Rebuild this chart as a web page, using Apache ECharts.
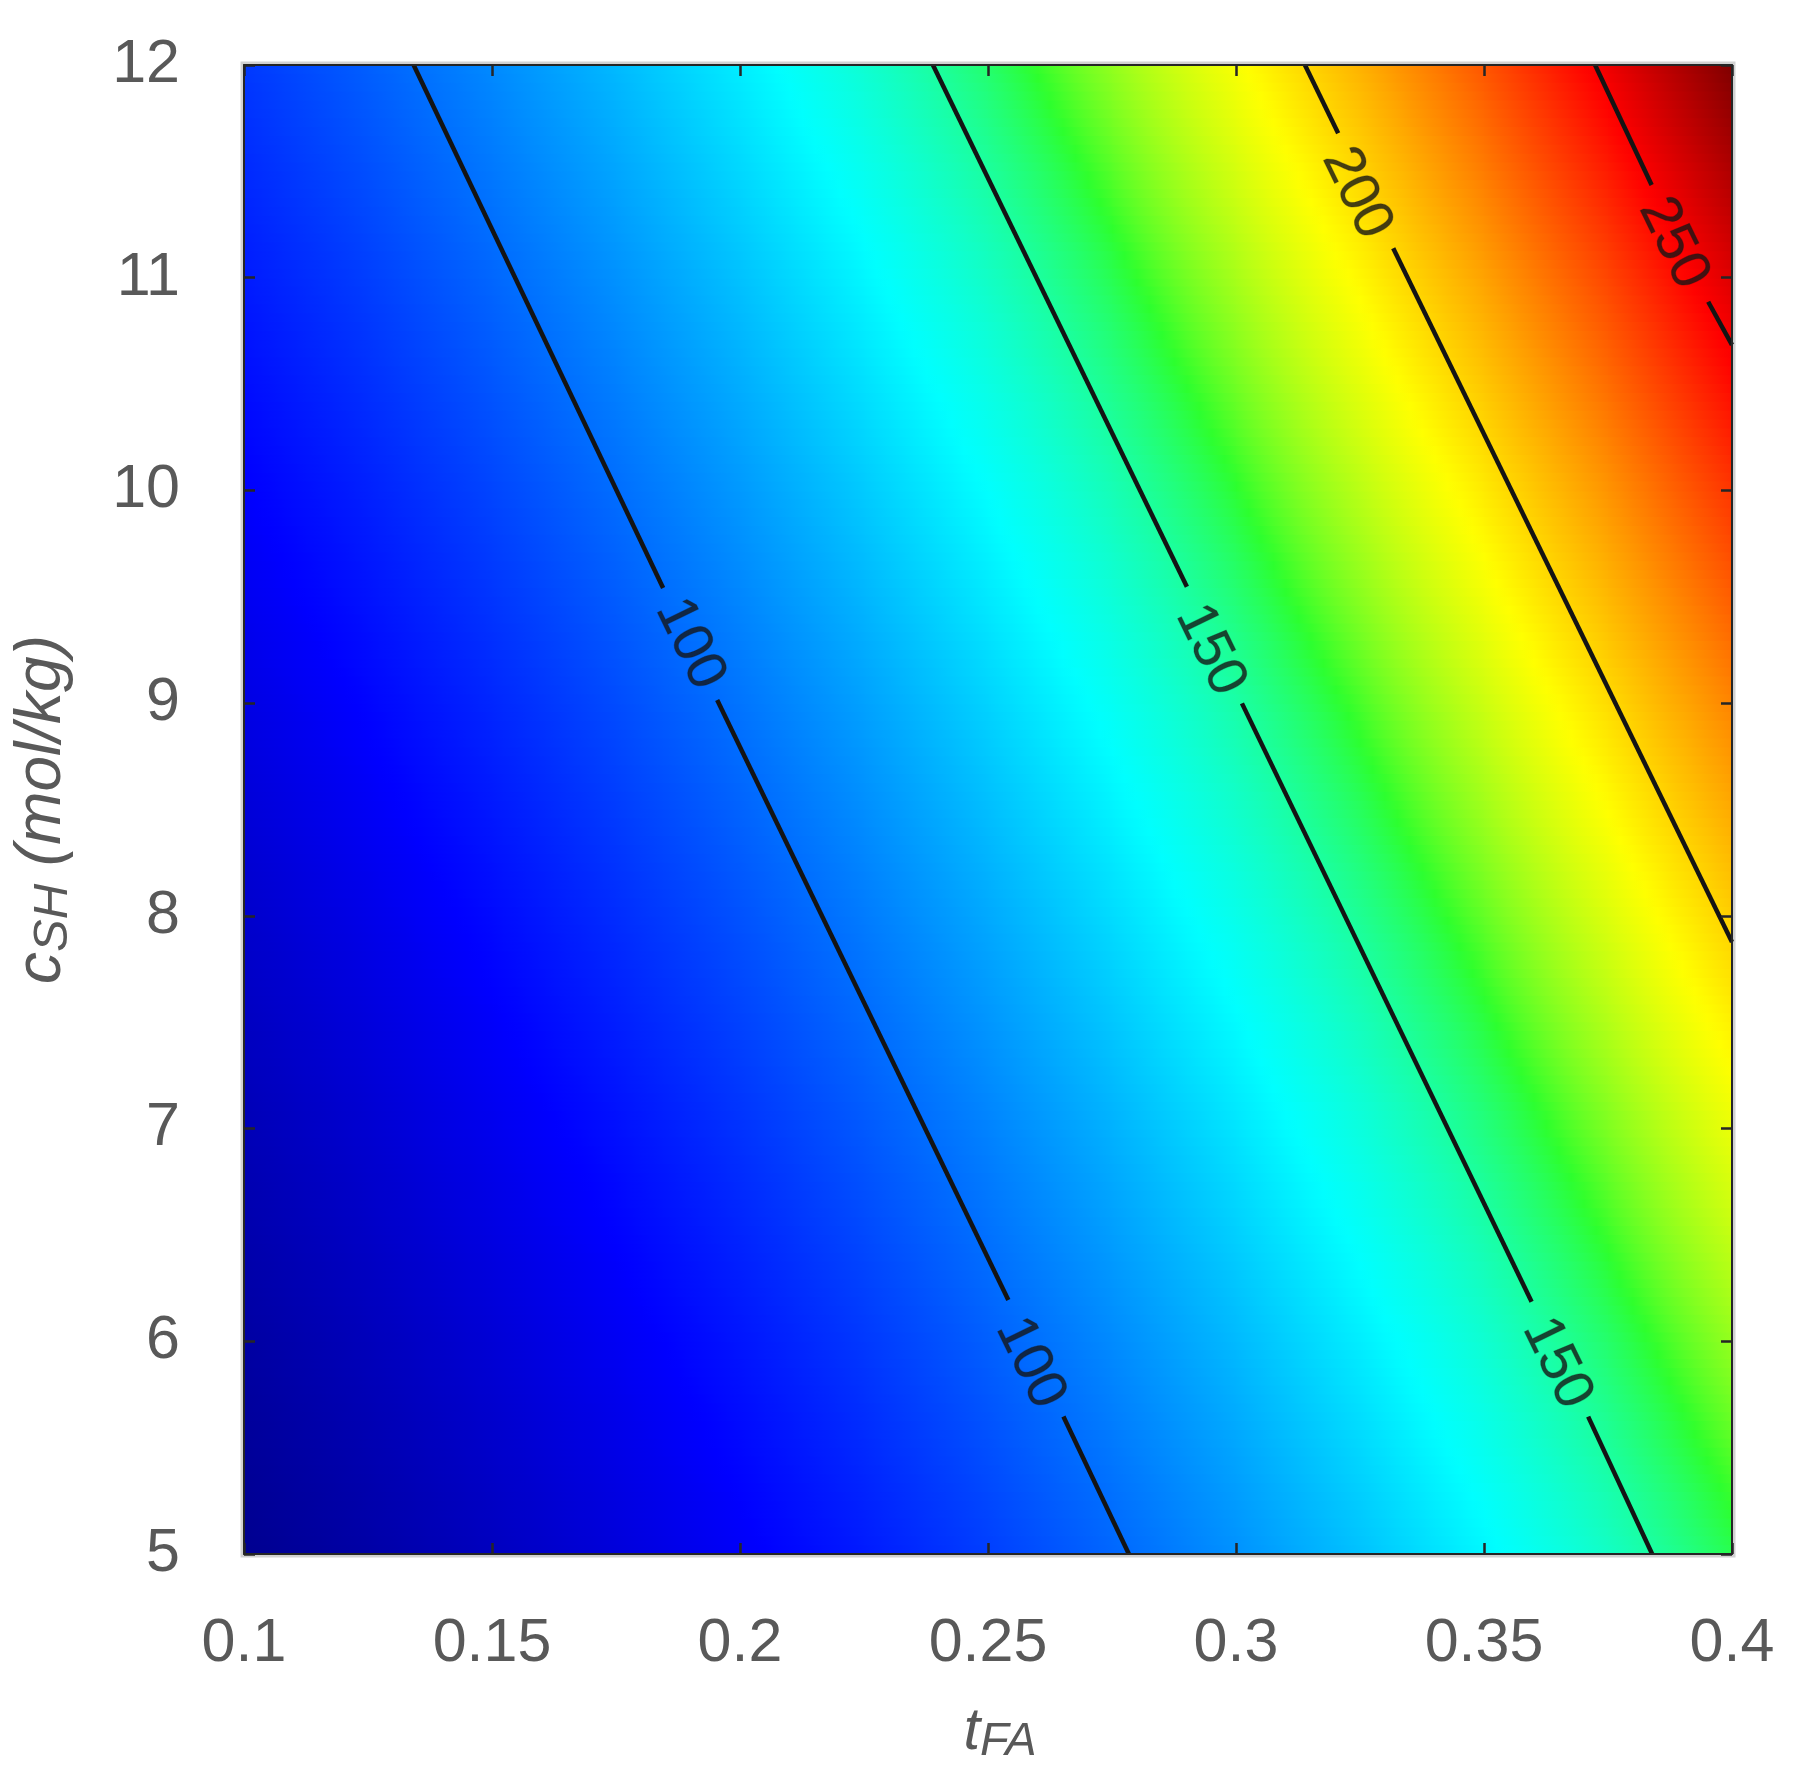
<!DOCTYPE html>
<html>
<head>
<meta charset="utf-8">
<script src="https://cdn.jsdelivr.net/npm/echarts@6/dist/echarts.min.js"></script>
<style>
html,body{margin:0;padding:0;background:#ffffff;}
#chart{width:1801px;height:1779px;}
</style>
</head>
<body>
<div id="chart"></div>
<script>
// ---- grid nodes (t_FA on x, c_SH on y) ----
const xNodes = [0.1, 0.125, 0.15, 0.175, 0.2, 0.225, 0.25, 0.275, 0.3, 0.325, 0.35, 0.375, 0.4];
const yNodes = [5, 6, 7, 8, 9, 10, 11, 12];

// ---- surface values, one row per c_SH level ----
const z_y5  = [49.0, 54.2, 59.9, 66.2, 73.1, 80.6, 89.0, 98.1, 108.2, 119.3, 131.5, 144.9, 159.7];
const z_y6  = [53.3, 58.9, 65.1, 71.9, 79.3, 87.5, 96.5, 106.5, 117.4, 129.4, 142.6, 157.1, 173.1];
const z_y7  = [57.9, 64.0, 70.7, 78.0, 86.1, 95.0, 104.7, 115.5, 127.3, 140.3, 154.6, 170.3, 187.5];
const z_y8  = [62.9, 69.5, 76.7, 84.7, 93.4, 103.0, 113.6, 125.2, 138.0, 152.1, 167.5, 184.5, 203.2];
const z_y9  = [68.3, 75.5, 83.3, 91.9, 101.3, 111.7, 123.2, 135.8, 149.6, 164.8, 181.5, 200.0, 220.2];
const z_y10 = [74.2, 81.9, 90.4, 99.7, 109.9, 121.2, 133.6, 147.2, 162.2, 178.6, 196.7, 216.6, 238.5];
const z_y11 = [80.6, 88.9, 98.1, 108.1, 119.2, 131.4, 144.8, 159.5, 175.7, 193.6, 213.2, 234.7, 258.4];
const z_y12 = [87.4, 96.5, 106.4, 117.3, 129.3, 142.5, 157.0, 172.9, 190.5, 209.7, 231.0, 254.3, 279.9];
const zRows = [z_y5, z_y6, z_y7, z_y8, z_y9, z_y10, z_y11, z_y12];

// ---- tick labels ----
const xTickLabels = ['0.1', '0.15', '0.2', '0.25', '0.3', '0.35', '0.4'];
const yTickLabels = ['5', '6', '7', '8', '9', '10', '11', '12'];

// ---- contour lines (data coordinates, split where the labels sit) ----
const contour100 = [
  [[0.1342, 12], [0.1845, 9.541]],
  [[0.1954, 9.015], [0.2541, 6.194]],
  [[0.2652, 5.646], [0.2784, 5]]
];
const contour150 = [
  [[0.2389, 12], [0.2901, 9.547]],
  [[0.3012, 8.999], [0.3596, 6.186]],
  [[0.3710, 5.646], [0.3839, 5]]
];
const contour200 = [
  [[0.3139, 12], [0.3206, 11.679]],
  [[0.3317, 11.138], [0.4, 7.877]]
];
const contour250 = [
  [[0.3724, 12], [0.3838, 11.436]],
  [[0.3952, 10.887], [0.4, 10.684]]
];
const contourLabels = [
  [0.1899, 9.278, '100'],
  [0.2585, 5.898, '100'],
  [0.2948, 9.250, '150'],
  [0.3647, 5.897, '150'],
  [0.3243, 11.397, '200'],
  [0.3882, 11.162, '250']
];

// ---- jet-style colormap (MATLAB jet, rendered with boosted saturation) ----
function buildJet(m) {
  const n = Math.ceil(m / 4);
  const u = [];
  for (let i = 1; i <= n; i++) u.push(i / n);
  for (let i = 0; i < n - 1; i++) u.push(1);
  for (let i = n; i >= 1; i--) u.push(i / n);
  const g0 = Math.ceil(n / 2) - (m % 4 === 1 ? 1 : 0);
  const cmap = Array.from({length: m}, () => [0, 0, 0]);
  for (let k = 0; k < u.length; k++) {
    const gi = g0 + k + 1, ri = gi + n, bi = gi - n;
    if (ri >= 1 && ri <= m) cmap[ri - 1][0] = u[k];
    if (gi >= 1 && gi <= m) cmap[gi - 1][1] = u[k];
    if (bi >= 1 && bi <= m) cmap[bi - 1][2] = u[k];
  }
  return cmap;
}
const cmap = buildJet(64);
const SAT_BOOST = 0.65;
const allZ = zRows.flat();
const zMin = Math.min.apply(null, allZ);
const zMax = Math.max.apply(null, allZ);
function colorAt(v) {
  let t = (v - zMin) / (zMax - zMin);
  t = Math.max(0, Math.min(1, t));
  const p = t * (cmap.length - 1);
  const k = Math.min(cmap.length - 2, Math.floor(p));
  const f = p - k;
  const a = cmap[k], b = cmap[k + 1];
  let c = [0, 1, 2].map(i => a[i] + (b[i] - a[i]) * f);
  const mx = Math.max(c[0], c[1], c[2]), mn = Math.min(c[0], c[1], c[2]);
  if (mx > mn) c = c.map(x => x + ((x - mn) / (mx - mn) * mx - x) * SAT_BOOST);
  return 'rgb(' + c.map(x => Math.round(x * 255)).join(',') + ')';
}

// ---- cells of the surface ----
const cells = [];
for (let j = 0; j < yNodes.length - 1; j++) {
  for (let i = 0; i < xNodes.length - 1; i++) {
    cells.push([(xNodes[i] + xNodes[i + 1]) / 2, (yNodes[j] + yNodes[j + 1]) / 2, i, j]);
  }
}

function renderCell(params, api) {
  const i = api.value(2), j = api.value(3);
  const pBL = api.coord([xNodes[i], yNodes[j]]);
  const pTR = api.coord([xNodes[i + 1], yNodes[j + 1]]);
  const left = pBL[0], right = pTR[0], bottom = pBL[1], top = pTR[1];
  const SUB = 24, STOPS = 10;
  const h = (bottom - top) / SUB;
  const zb0 = zRows[j][i], zb1 = zRows[j][i + 1], zt0 = zRows[j + 1][i], zt1 = zRows[j + 1][i + 1];
  const children = [];
  for (let r = 0; r < SUB; r++) {
    const ty = 1 - (r + 0.5) / SUB;
    const zl = zb0 + (zt0 - zb0) * ty;
    const zr = zb1 + (zt1 - zb1) * ty;
    const stops = [];
    for (let k = 0; k <= STOPS; k++) {
      const f = k / STOPS;
      stops.push({offset: f, color: colorAt(zl + (zr - zl) * f)});
    }
    const extW = (i < xNodes.length - 2) ? 1 : 0;
    const extH = (j === 0 && r === SUB - 1) ? 0 : 1;
    children.push({
      type: 'rect',
      shape: {x: left, y: top + r * h, width: right - left + extW, height: h + extH},
      style: {fill: {type: 'linear', x: 0, y: 0, x2: 1, y2: 0, colorStops: stops}},
      silent: true
    });
  }
  return {type: 'group', children: children};
}

const FONT = 'Liberation Sans';
const TXT = '#595959';
const AX = '#262626';

const series = [{
  type: 'custom',
  renderItem: renderCell,
  data: cells,
  encode: {x: 0, y: 1},
  z: 2,
  silent: true
}];

[contour100, contour150, contour200, contour250].forEach(segs => {
  segs.forEach(seg => {
    series.push({
      type: 'line',
      data: seg,
      symbol: 'none',
      showSymbol: false,
      lineStyle: {color: '#141414', width: 4.5},
      z: 3,
      silent: true
    });
  });
});

series.push({
  type: 'scatter',
  symbolSize: 0,
  data: contourLabels.map(d => ({value: [d[0], d[1]], name: d[2]})),
  label: {
    show: true,
    position: 'inside',
    formatter: p => p.name,
    rotate: -64,
    fontSize: 56,
    fontFamily: FONT,
    color: '#151515',
    textBorderColor: 'rgba(20,20,20,0.35)',
    textBorderWidth: 1
  },
  z: 4,
  silent: true
});

const axisCommon = {
  type: 'value',
  z: 5,
  splitLine: {show: false},
  axisLine: {show: true, onZero: false, lineStyle: {color: AX, width: 2}},
  axisTick: {show: true, inside: true, length: 11, lineStyle: {color: AX, width: 2.5}}
};

const option = {
  animation: false,
  backgroundColor: '#ffffff',
  grid: {
    left: 244, top: 65, width: 1488, height: 1489,
    show: true, borderColor: '#d2d2d2', borderWidth: 7, backgroundColor: 'transparent'
  },
  xAxis: [
    Object.assign({}, axisCommon, {
      position: 'bottom', min: 0.1, max: 0.4, interval: 0.05,
      axisLabel: {
        margin: 60, fontSize: 61, fontFamily: FONT, color: TXT,
        formatter: v => xTickLabels[Math.round((v - 0.1) / 0.05)]
      },
      name: '{t|t}{s|FA}',
      nameLocation: 'middle',
      nameGap: 145,
      nameTextStyle: {
        color: TXT, fontFamily: FONT, fontStyle: 'italic',
        padding: [0, 0, 0, 24],
        rich: {
          t: {fontSize: 60, fontStyle: 'italic', fontFamily: FONT, color: TXT, lineHeight: 66},
          s: {fontSize: 47, fontStyle: 'italic', fontFamily: FONT, color: TXT, lineHeight: 22, verticalAlign: 'bottom'}
        }
      }
    }),
    Object.assign({}, axisCommon, {
      position: 'top', min: 0.1, max: 0.4, interval: 0.05,
      axisLabel: {show: false}
    })
  ],
  yAxis: [
    Object.assign({}, axisCommon, {
      position: 'left', min: 5, max: 12, interval: 1,
      axisLabel: {
        margin: 64, fontSize: 61, fontFamily: FONT, color: TXT,
        formatter: v => yTickLabels[Math.round(v - 5)]
      },
      name: '{m|c}{s|SH}{m| (mol/kg)}',
      nameLocation: 'middle',
      nameGap: 166,
      nameTextStyle: {
        color: TXT, fontFamily: FONT, fontStyle: 'italic',
        rich: {
          m: {fontSize: 64, fontStyle: 'italic', fontFamily: FONT, color: TXT, lineHeight: 72},
          s: {fontSize: 49, fontStyle: 'italic', fontFamily: FONT, color: TXT, lineHeight: 24, verticalAlign: 'bottom'}
        }
      }
    }),
    Object.assign({}, axisCommon, {
      position: 'right', min: 5, max: 12, interval: 1,
      axisLabel: {show: false}
    })
  ],
  series: series
};

const chart = echarts.init(document.getElementById('chart'), null, {renderer: 'canvas'});
chart.setOption(option);
</script>
</body>
</html>
